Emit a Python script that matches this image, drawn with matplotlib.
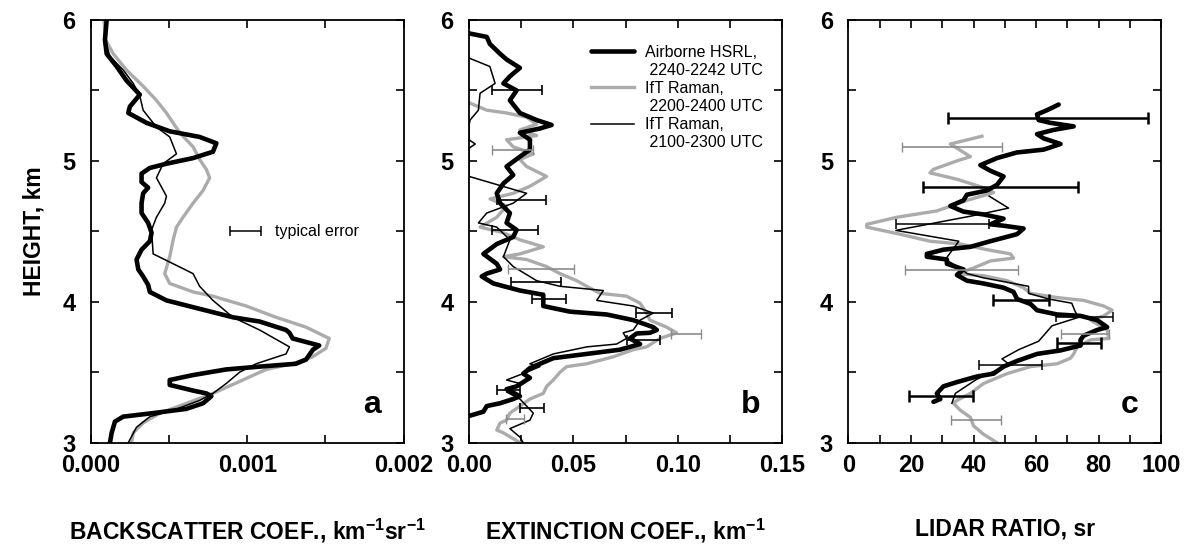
import numpy as np
import matplotlib
matplotlib.use("Agg")
import matplotlib.pyplot as plt
from matplotlib.lines import Line2D
from matplotlib.ticker import FormatStrFormatter

plt.rcParams['font.family'] = ['Liberation Sans', 'DejaVu Sans']
plt.rcParams['mathtext.fontset'] = 'custom'
plt.rcParams['mathtext.rm'] = 'Liberation Sans:bold'
plt.rcParams['mathtext.bf'] = 'Liberation Sans:bold'
plt.rcParams['mathtext.default'] = 'bf'

# ---------------- data: (height km, value) ----------------
# Panel a: backscatter coefficient, units of 1e-3 km^-1 sr^-1
a_hsrl = [(6.00,0.102),(5.86,0.091),(5.76,0.102),(5.67,0.166),(5.57,0.229),(5.47,0.314),(5.385,0.250),
          (5.34,0.240),(5.27,0.357),(5.21,0.505),(5.17,0.696),(5.125,0.803),(5.065,0.781),(5.02,0.654),
          (4.98,0.484),(4.95,0.378),(4.91,0.325),(4.85,0.325),(4.81,0.367),(4.77,0.335),(4.70,0.325),
          (4.63,0.325),(4.56,0.367),(4.49,0.389),(4.43,0.378),(4.37,0.325),(4.30,0.293),(4.23,0.304),
          (4.18,0.335),(4.12,0.367),(4.07,0.378),(4.01,0.484),(3.95,0.696),(3.89,0.909),(3.86,1.079),
          (3.80,1.248),(3.78,1.270),(3.74,1.290),(3.69,1.460),(3.66,1.420),(3.59,1.376),(3.56,1.310),
          (3.54,1.079),(3.52,0.866),(3.48,0.654),(3.445,0.505),(3.41,0.505),(3.37,0.654),(3.35,0.739),
          (3.33,0.771),(3.28,0.718),(3.24,0.611),(3.21,0.399),(3.185,0.208),(3.15,0.155),(3.07,0.134),
          (3.00,0.123)]
a_raman_b = [(6.00,0.085),(5.86,0.095),(5.76,0.144),(5.645,0.229),(5.53,0.335),(5.43,0.420),(5.34,0.484),
             (5.20,0.569),(5.10,0.654),(5.01,0.696),(4.94,0.739),(4.88,0.760),(4.79,0.718),(4.70,0.654),
             (4.60,0.590),(4.53,0.548),(4.44,0.527),(4.32,0.505),(4.20,0.473),(4.13,0.505),(4.07,0.654),
             (4.04,0.781),(3.97,0.994),(3.89,1.185),(3.82,1.376),(3.74,1.524),(3.67,1.503),(3.61,1.418),
             (3.56,1.290),(3.52,1.121),(3.445,0.972),(3.35,0.781),(3.27,0.590),(3.21,0.442),(3.14,0.335),
             (3.07,0.272),(3.00,0.261)]
a_raman_a = [(6.00,0.102),(5.85,0.095),(5.74,0.123),(5.645,0.208),(5.55,0.272),(5.46,0.314),(5.36,0.335),
             (5.24,0.420),(5.17,0.505),(5.05,0.548),(4.98,0.463),(4.88,0.420),(4.75,0.484),(4.70,0.473),
             (4.60,0.420),(4.51,0.389),(4.34,0.399),(4.27,0.527),(4.20,0.654),(4.11,0.696),(4.01,0.781),
             (3.89,0.909),(3.80,1.079),(3.68,1.270),(3.63,1.248),(3.56,1.057),(3.50,0.951),(3.42,0.866),
             (3.35,0.781),(3.30,0.696),(3.23,0.527),(3.185,0.378),(3.11,0.293),(3.00,0.240)]
a_typical_error = (4.5, 0.89, 1.09)   # height, low, high (1e-3)

# Panel b: extinction coefficient, km^-1
b_hsrl = [(5.905,0.0),(5.88,0.0085),(5.83,0.010),(5.76,0.0149),(5.72,0.018),(5.66,0.0244),(5.60,0.0196),
          (5.55,0.0165),(5.50,0.0228),(5.43,0.0196),(5.34,0.0244),(5.29,0.0324),(5.255,0.0396),(5.23,0.034),
          (5.20,0.0244),(5.15,0.0292),(5.08,0.0292),(5.03,0.0244),(4.96,0.018),(4.90,0.0212),(4.84,0.0165),
          (4.77,0.0133),(4.70,0.0149),(4.63,0.0196),(4.56,0.018),(4.51,0.0228),(4.46,0.0212),(4.41,0.0133),
          (4.34,0.0069),(4.27,0.0133),(4.23,0.0149),(4.20,0.0085),(4.18,0.0061),(4.13,0.0117),(4.08,0.0244),
          (4.05,0.0356),(3.97,0.0356),(3.93,0.0484),(3.91,0.066),(3.87,0.0787),(3.82,0.0883),(3.80,0.090),
          (3.78,0.0867),(3.775,0.0803),(3.74,0.0771),(3.70,0.082),(3.66,0.0723),(3.63,0.0564),(3.60,0.0404),
          (3.56,0.034),(3.53,0.0292),(3.49,0.026),(3.46,0.0292),(3.40,0.0228),(3.38,0.018),(3.33,0.0244),
          (3.31,0.0212),(3.28,0.0149),(3.26,0.0085),(3.22,0.0069),(3.19,0.0)]
b_raman_b = [(5.41,0.0005),(5.36,0.0085),(5.34,0.018),(5.31,0.0276),(5.26,0.0324),(5.22,0.0244),(5.18,0.0324),
             (5.15,0.018),(5.10,0.0212),(5.05,0.0308),(5.01,0.0244),(4.96,0.0276),(4.89,0.0372),(4.82,0.0292),
             (4.77,0.0212),(4.73,0.0101),(4.68,0.018),(4.60,0.0133),(4.53,0.0053),(4.49,0.0165),(4.44,0.0244),
             (4.39,0.0356),(4.34,0.0244),(4.32,0.0165),(4.30,0.0276),(4.25,0.0372),(4.20,0.0436),(4.15,0.0516),
             (4.11,0.0564),(4.06,0.0628),(4.04,0.0755),(3.99,0.082),(3.92,0.0851),(3.87,0.0867),(3.82,0.0947),
             (3.78,0.0995),(3.74,0.0915),(3.68,0.0851),(3.66,0.0787),(3.61,0.0692),(3.56,0.0564),(3.54,0.0468),
             (3.50,0.0436),(3.445,0.0404),(3.40,0.0372),(3.35,0.0356),(3.31,0.0292),(3.26,0.0244),(3.21,0.0196),
             (3.16,0.018),(3.14,0.0149),(3.09,0.0133),(3.07,0.0165),(3.00,0.0244)]
b_raman_a = [(5.73,0.0),(5.67,0.010),(5.55,0.0125),(5.48,0.0053),(5.36,0.0045),(5.29,0.0005),(5.25,0.0),
             (5.15,0.0),(5.12,0.003),(5.09,0.0),(4.89,0.0),(4.77,0.0276),(4.70,0.0212),(4.63,0.0085),
             (4.56,0.0045),(4.53,0.0133),(4.44,0.0196),(4.32,0.0165),(4.25,0.0212),(4.15,0.0324),(4.11,0.0436),
             (4.08,0.0644),(4.01,0.0612),(3.97,0.0787),(3.92,0.0883),(3.87,0.082),(3.80,0.0787),(3.78,0.0739),
             (3.74,0.0755),(3.70,0.0707),(3.68,0.0564),(3.63,0.0404),(3.56,0.0292),(3.54,0.034),(3.50,0.0276),
             (3.445,0.018),(3.42,0.0244),(3.36,0.018),(3.31,0.0244),(3.21,0.0308),(3.16,0.0292),(3.10,0.0196),
             (3.04,0.0244),(3.00,0.026)]
b_err_black = [(5.50,0.0112,0.0351),(4.72,0.0133,0.0367),(4.51,0.0112,0.0332),(4.14,0.0200,0.0441),
               (4.02,0.0303,0.0463),(3.92,0.0798,0.0974),(3.73,0.0759,0.0915),(3.375,0.0133,0.0244),
               (3.245,0.0244,0.0361)]
b_err_grey = [(5.08,0.0109,0.0308),(4.23,0.0185,0.0505),(3.77,0.097,0.111),(3.17,0.0175,0.0265)]

# Panel c: lidar ratio, sr
c_hsrl = [(5.40,67.2),(5.36,63.5),(5.33,60.3),(5.29,60.8),(5.27,64.6),(5.245,72.0),(5.22,65.6),(5.19,60.3),
          (5.16,62.4),(5.12,67.8),(5.08,62.4),(5.06,53.9),(5.02,47.5),(4.97,42.2),(4.93,45.4),(4.89,49.6),
          (4.83,47.5),(4.79,44.3),(4.76,37.9),(4.72,36.8),(4.68,32.6),(4.64,36.8),(4.62,43.2),(4.59,49.6),
          (4.55,45.4),(4.54,49.6),(4.52,56.0),(4.48,53.9),(4.43,45.4),(4.39,39.0),(4.37,30.4),(4.34,25.1),
          (4.32,25.1),(4.30,31.5),(4.27,31.5),(4.23,36.8),(4.19,34.7),(4.15,37.9),(4.13,43.2),(4.10,49.6),
          (4.07,52.8),(4.02,53.9),(3.985,58.2),(3.94,60.3),(3.91,66.7),(3.90,74.2),(3.87,79.5),(3.82,82.7),
          (3.80,79.5),(3.76,75.2),(3.73,74.2),(3.69,74.2),(3.655,67.8),(3.63,60.3),(3.58,53.9),(3.54,49.6),
          (3.49,46.4),(3.47,41.1),(3.43,34.7),(3.40,30.4),(3.35,28.3),(3.31,29.4),(3.29,27.2)]
c_raman_b = [(5.175,42.7),(5.12,32.6),(5.03,39.0),(5.00,34.7),(4.94,27.2),(4.915,26.1),(4.87,34.7),(4.81,43.2),
             (4.775,46.4),(4.72,37.9),(4.645,28.3),(4.60,15.5),(4.55,5.9),(4.53,5.9),(4.48,16.5),(4.43,26.1),
             (4.41,35.8),(4.37,44.3),(4.34,51.8),(4.31,52.8),(4.29,45.4),(4.24,40.0),(4.20,34.7),(4.185,43.2),
             (4.15,50.7),(4.10,56.0),(4.06,58.2),(4.03,66.7),(4.01,75.2),(3.97,81.6),(3.94,84.3),(3.90,81.6),
             (3.87,77.4),(3.80,82.7),(3.74,83.2),(3.73,77.4),(3.68,73.1),(3.63,72.0),(3.60,71.0),(3.56,66.7),
             (3.54,58.2),(3.49,50.7),(3.42,43.2),(3.35,39.0),(3.30,34.7),(3.28,33.6),(3.23,35.8),(3.18,39.0),
             (3.12,40.0),(3.06,43.2),(3.00,47.5)]
c_raman_a = [(4.75,45.0),(4.665,51.2),(4.61,39.6),(4.507,15.2),(4.43,35.3),(4.36,33.0),(4.30,31.0),(4.25,35.0),
             (4.20,38.0),(4.17,43.2),(4.11,57.6),(4.06,57.6),(4.02,64.0),(3.99,71.4),(3.93,72.5),(3.89,73.6),
             (3.83,65.1),(3.72,60.8),(3.66,54.4),(3.595,49.1),(3.56,51.2),(3.516,47.5),(3.45,41.0),(3.35,34.2),
             (3.28,33.1)]
c_err_hsrl = [(5.305,31.7,95.8),(4.815,24.0,73.4),(4.013,46.2,64.2),(3.71,66.7,80.6),(3.33,19.5,39.7)]
c_err_raman_a = [(4.55,15.3,45.0),(3.89,66.5,84.5),(3.55,41.9,61.9)]
c_err_raman_b = [(5.10,17.1,49.1),(4.225,18.1,54.2),(3.775,67.8,83.2),(3.16,32.8,48.8)]

legend_labels = ["Airborne HSRL,", " 2240-2242 UTC", "IfT Raman,", " 2200-2400 UTC",
                 "IfT Raman,", " 2100-2300 UTC"]
panel_letters = ["a", "b", "c"]
x_labels = [r"BACKSCATTER COEF., km$^{-1}$sr$^{-1}$", r"EXTINCTION COEF., km$^{-1}$",
            "LIDAR RATIO, sr"]

# ---------------- styles ----------------
GREY = '#ababab'
st_hsrl = dict(color='black', lw=3.3, solid_joinstyle='round', solid_capstyle='round')
st_rb = dict(color=GREY, lw=2.4, solid_joinstyle='round')
st_ra = dict(color='black', lw=1.1)

def xy(pairs, scale=1.0):
    arr = np.array(pairs, dtype=float)
    return arr[:, 1] * scale, arr[:, 0]

def errbars(ax, rows, scale=1.0, **kw):
    arr = np.array(rows, dtype=float)
    lo, hi = arr[:, 1] * scale, arr[:, 2] * scale
    ax.errorbar((lo + hi) / 2, arr[:, 0], xerr=(hi - lo) / 2, fmt='none', **kw)

fig = plt.figure(figsize=(11.89, 5.5), dpi=100)
W, H = 1189, 550
lefts = [90.7, 469, 848.3]
width = 313
bottom_px, top_px = 442.7, 20

axes = []
for lx in lefts:
    ax = fig.add_axes([lx / W, 1 - bottom_px / H, width / W, (bottom_px - top_px) / H])
    axes.append(ax)

# panel a
ax = axes[0]
ax.plot(*xy(a_raman_b, 1e-3), **st_rb)
ax.plot(*xy(a_raman_a, 1e-3), **st_ra)
ax.plot(*xy(a_hsrl, 1e-3), **st_hsrl)
h, lo, hi = a_typical_error
ax.errorbar([(lo + hi) / 2 * 1e-3], [h], xerr=[(hi - lo) / 2 * 1e-3], fmt='none',
            ecolor='black', elinewidth=1.1, capsize=3.5, capthick=1.1)
ax.text(hi * 1e-3 + 0.00009, h, "typical error", fontsize=11.5, va='center', ha='left')
ax.set_xlim(0, 0.002)
ax.set_xticks([0, 0.001, 0.002])
ax.set_xticks([0.0005, 0.0015], minor=True)
ax.xaxis.set_major_formatter(FormatStrFormatter('%.3f'))
ax.set_ylabel("HEIGHT, km", fontsize=16.5, fontweight='bold', labelpad=12)

# panel b
ax = axes[1]
ax.plot(*xy(b_raman_b), **st_rb)
ax.plot(*xy(b_raman_a), **st_ra)
ax.plot(*xy(b_hsrl), **st_hsrl)
errbars(ax, b_err_grey, ecolor='#8c8c8c', elinewidth=1.2, capsize=3.5, capthick=1.0, linestyle=':')
errbars(ax, b_err_black, ecolor='black', elinewidth=1.2, capsize=3.5, capthick=1.2)
ax.set_xlim(0, 0.15)
ax.set_xticks([0, 0.05, 0.10, 0.15])
ax.set_xticks([0.025, 0.075, 0.125], minor=True)
ax.xaxis.set_major_formatter(FormatStrFormatter('%.2f'))
blank = Line2D([], [], linestyle='none')
handles = [Line2D([], [], **st_hsrl), blank, Line2D([], [], **st_rb), blank,
           Line2D([], [], **st_ra), blank]
leg = ax.legend(handles, legend_labels, loc='upper left', bbox_to_anchor=(0.39, 0.942),
                frameon=False, fontsize=11.5, handlelength=2.7, handletextpad=0.65,
                labelspacing=0.2, borderpad=0, borderaxespad=0)

# panel c
ax = axes[2]
ax.plot(*xy(c_raman_b), **st_rb)
ax.plot(*xy(c_raman_a), **st_ra)
ax.plot(*xy(c_hsrl), **st_hsrl)
errbars(ax, c_err_raman_b, ecolor='#8c8c8c', elinewidth=1.2, capsize=3.5, capthick=1.0, linestyle=':')
errbars(ax, c_err_raman_a, ecolor='black', elinewidth=1.1, capsize=3.5, capthick=1.1)
errbars(ax, c_err_hsrl, ecolor='black', elinewidth=1.8, capsize=4, capthick=1.8)
ax.set_xlim(0, 100)
ax.set_xticks([0, 20, 40, 60, 80, 100])
ax.set_xticks([10, 30, 50, 70, 90], minor=True)

for ax, letter, xl in zip(axes, panel_letters, x_labels):
    ax.set_ylim(3, 6)
    ax.set_yticks([3, 4, 5, 6])
    ax.set_yticks([3.5, 4.5, 5.5], minor=True)
    for s in ax.spines.values():
        s.set_linewidth(1.3)
    ax.tick_params(which='both', direction='in', top=True, right=True, length=6, width=1.2)
    ax.tick_params(axis='x', which='major', labelsize=17, pad=8)
    ax.tick_params(axis='y', which='major', labelsize=17, pad=11)
    for t in ax.get_xticklabels() + ax.get_yticklabels():
        t.set_fontweight('bold')
    ax.text(0.9, 0.09, letter, transform=ax.transAxes, fontsize=23, fontweight='bold',
            ha='center', va='center')
    ax.set_xlabel(xl, fontsize=16.5, fontweight='bold', labelpad=29)

fig.savefig("out.png", dpi=100)
